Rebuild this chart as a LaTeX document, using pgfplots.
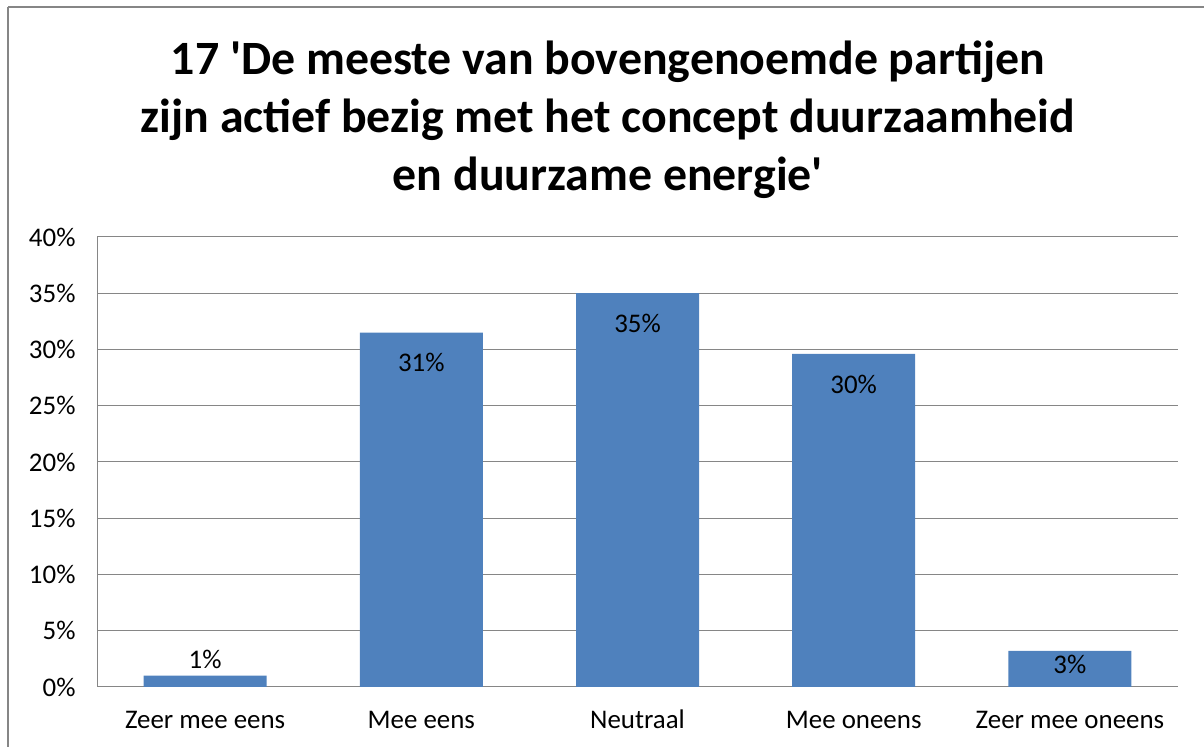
\documentclass[border=0pt]{standalone}
\usepackage{pgfplots}
\pgfplotsset{compat=1.18}
\usepackage{pgfplotstable}
\usepackage{fontspec}
\setmainfont{Carlito}[Ligatures=TeXOff]
\definecolor{barblue}{HTML}{4F81BD}
\definecolor{gridgray}{HTML}{868686}
\pgfplotstableread{
x y lbl dy
0 1.0 1 16
1 31.5 31 -30
2 35.0 35 -30
3 29.6 30 -30
4 3.2 3 -13
}\data
\begin{document}
\begin{tikzpicture}[x=1bp,y=1bp]
\path[use as bounding box] (0,0) rectangle (1204,747);
\draw[gridgray,line width=1.5bp] (8,740) -- (1215,740);
\draw[gridgray,line width=1.5bp] (8,740) -- (8,-10);
\node[align=center,font=\fontsize{48}{58}\selectfont\bfseries] at (608,627)
  {17 'De meeste van bovengenoemde partijen\\zijn actief bezig met het concept duurzaamheid\\en duurzame energie'};
\begin{axis}[
  at={(97bp,60bp)}, anchor=south west,
  scale only axis, width=1081bp, height=450bp,
  xmin=-0.5, xmax=4.5, ymin=0, ymax=40,
  axis x line*=bottom, axis y line*=left,
  axis line style={gridgray,line width=1bp},
  ymajorgrids, grid style={gridgray,line width=1bp},
  major tick length=0pt,
  xtick={0,1,2,3,4},
  xticklabels={Zeer mee eens,Mee eens,Neutraal,Mee oneens,Zeer mee oneens},
  ytick={0,5,10,15,20,25,30,35,40},
  yticklabels={0\%,5\%,10\%,15\%,20\%,25\%,30\%,35\%,40\%},
  ticklabel style={font=\fontsize{27}{32}\selectfont},
  yticklabel style={xshift=-18bp},
  xticklabel style={anchor=base, yshift=-42bp},
  separate axis lines,
]
\addplot[ybar, bar width=123bp, fill=barblue, draw=none,
  point meta=explicit symbolic,
  visualization depends on={\thisrow{dy}\as\dy},
  nodes near coords={\pgfplotspointmeta\%},
  every node near coord/.append style={anchor=center,yshift=\dy bp,font=\fontsize{27}{32}\selectfont,text=black}]
  table[x=x,y=y,meta=lbl]{\data};
\end{axis}
\end{tikzpicture}
\end{document}
